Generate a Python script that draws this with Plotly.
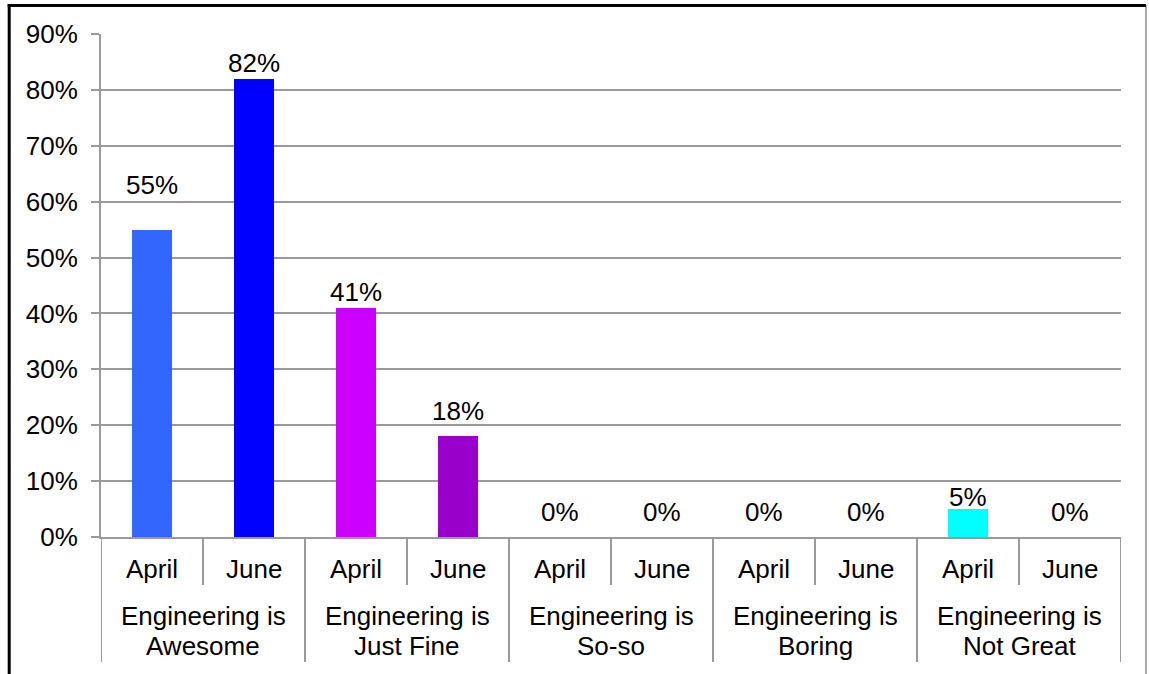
import plotly.graph_objects as go

# Survey results: share of answers per attitude, April vs June
groups = ["Engineering is<br>Awesome", "Engineering is<br>Just Fine",
          "Engineering is<br>So-so", "Engineering is<br>Boring",
          "Engineering is<br>Not Great"]
months = ["April", "June"]
values = [55, 82, 41, 18, 0, 0, 0, 0, 5, 0]
bar_colors = ["#3366FF", "#0000FF", "#CC00FF", "#9900CC", "#3366FF",
              "#0000FF", "#CC00FF", "#9900CC", "#00FFFF", "#0000FF"]
# vertical offset (px) of each value label above its bar top
label_offsets = [45, 16, 16, 25, 25, 25, 25, 25, 12, 25]
y_ticks = [0, 10, 20, 30, 40, 50, 60, 70, 80, 90]

FONT = "Liberation Sans, Arial, sans-serif"
GRID = "#9a9a9a"
FS = 26

positions = list(range(len(values)))

fig = go.Figure()
fig.add_trace(go.Bar(
    x=positions, y=values, width=0.4,
    marker=dict(color=bar_colors, line=dict(width=0)),
    hoverinfo="skip", showlegend=False,
))

annotations = []
# value labels
for p, v, off in zip(positions, values, label_offsets):
    annotations.append(dict(
        x=p, y=v, xref="x", yref="y", text=f"{v}%", showarrow=False,
        yshift=off, font=dict(family=FONT, size=FS, color="black"),
    ))
# month labels
for gi in range(len(groups)):
    for mi, m in enumerate(months):
        annotations.append(dict(
            x=gi * 2 + mi, y=-0.0636, xref="x", yref="paper", text=m,
            showarrow=False, yanchor="middle",
            font=dict(family=FONT, size=FS, color="black"),
        ))
# group labels, one annotation per text line for tight line spacing
line_y = [-0.1571, -0.2167]
for gi, g in enumerate(groups):
    for ly, part in zip(line_y, g.split("<br>")):
        annotations.append(dict(
            x=gi * 2 + 0.5, y=ly, xref="x", yref="paper", text=part,
            showarrow=False, yanchor="middle",
            font=dict(family=FONT, size=FS, color="black"),
        ))

shapes = []
# dividers between months within a group
for gi in range(len(groups)):
    shapes.append(dict(type="line", xref="x", yref="paper",
                       x0=gi * 2 + 0.5, x1=gi * 2 + 0.5, y0=0, y1=-0.0954,
                       line=dict(color=GRID, width=2)))
# dividers between groups
for gi in range(len(groups) + 1):
    xb = gi * 2 - 0.5
    shapes.append(dict(type="line", xref="x", yref="paper",
                       x0=xb, x1=xb, y0=0, y1=-0.2485,
                       line=dict(color=GRID, width=2)))
# outer frame
shapes += [
    dict(type="line", xref="paper", yref="paper", x0=-0.0915, x1=1.0245,
         y0=1.0567, y1=1.0567, line=dict(color="black", width=3)),
    dict(type="line", xref="paper", yref="paper", x0=-0.0900, x1=-0.0900,
         y0=1.0597, y1=-0.28, line=dict(color="black", width=3)),
    dict(type="line", xref="paper", yref="paper", x0=1.0245, x1=1.0245,
         y0=1.0577, y1=-0.28, line=dict(color="#555555", width=1)),
]

fig.update_layout(
    width=1149, height=674,
    margin=dict(l=101, r=28, t=34, b=137),
    paper_bgcolor="white", plot_bgcolor="white",
    bargap=0,
    xaxis=dict(range=[-0.5, 9.5], showticklabels=False, showgrid=False,
               zeroline=False, showline=True, linecolor=GRID, linewidth=2,
               ticks=""),
    yaxis=dict(range=[0, 90], tickvals=y_ticks,
               ticktext=[f"{t}%" for t in y_ticks],
               showgrid=True, gridcolor=GRID, gridwidth=2,
               zeroline=False, showline=True, linecolor=GRID, linewidth=2,
               ticks="outside", ticklen=8, tickcolor=GRID, tickwidth=2,
               ticklabelstandoff=8,
               tickfont=dict(family=FONT, size=FS, color="black")),
    annotations=annotations,
    shapes=shapes,
)

fig.write_html("out.html")
